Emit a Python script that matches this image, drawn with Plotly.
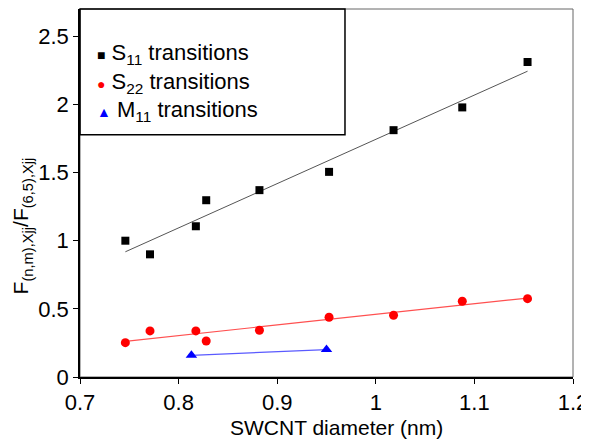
import numpy as np
import plotly.graph_objects as go

# Data
s11_x = [0.746, 0.771, 0.8175, 0.828, 0.882, 0.9526, 1.018, 1.0877, 1.1539]
s11_y = [1.00, 0.90, 1.106, 1.297, 1.371, 1.505, 1.811, 1.978, 2.311]
s22_x = [0.746, 0.771, 0.8175, 0.828, 0.882, 0.9526, 1.018, 1.0877, 1.1539]
s22_y = [0.252, 0.338, 0.338, 0.264, 0.343, 0.438, 0.453, 0.556, 0.575]
m11_x = [0.813, 0.950]
m11_y = [0.159, 0.201]

x_ticks = [0.7, 0.8, 0.9, 1.0, 1.1, 1.2]
x_tick_text = ["0.7", "0.8", "0.9", "1", "1.1", "1.2"]
y_ticks = [0, 0.5, 1.0, 1.5, 2.0, 2.5]
y_tick_text = ["0", "0.5", "1", "1.5", "2", "2.5"]

legend_names = ["S<sub>11</sub> transitions", "S<sub>22</sub> transitions", "M<sub>11</sub> transitions"]
legend_glyphs = ["■", "●", "▲"]
legend_colors = ["black", "#ff0000", "#0000ff"]

FONT = "Liberation Sans, Arial, sans-serif"

def fit_line(x, y):
    p = np.polyfit(x, y, 1)
    xs = np.array([min(x), max(x)])
    return xs, np.polyval(p, xs)

fig = go.Figure()

fx, fy = fit_line(s11_x, s11_y)
fig.add_trace(go.Scatter(x=fx, y=fy, mode="lines", line=dict(color="#555555", width=1), showlegend=False, hoverinfo="skip"))
fx, fy = fit_line(s22_x, s22_y)
fig.add_trace(go.Scatter(x=fx, y=fy, mode="lines", line=dict(color="#ff5050", width=1.2), showlegend=False, hoverinfo="skip"))
fig.add_trace(go.Scatter(x=m11_x, y=m11_y, mode="lines", line=dict(color="#5a5aff", width=1.2), showlegend=False, hoverinfo="skip"))

fig.add_trace(go.Scatter(x=s11_x, y=s11_y, mode="markers", name="S11", marker=dict(symbol="square", size=8, color="black"), showlegend=False))
fig.add_trace(go.Scatter(x=s22_x, y=s22_y, mode="markers", name="S22", marker=dict(symbol="circle", size=9, color="#ff0000"), showlegend=False))
fig.add_trace(go.Scatter(x=m11_x, y=m11_y, mode="markers", name="M11", marker=dict(symbol="triangle-up", size=10, color="#0000ff"), showlegend=False))

# plot frame (gray) and legend box
fig.add_shape(type="rect", xref="paper", yref="paper", x0=0, y0=0, x1=1, y1=1, line=dict(color="#666666", width=1), layer="below")
fig.add_shape(type="rect", xref="paper", yref="paper", x0=0, y0=0.658, x1=0.5375, y1=1, line=dict(color="black", width=1.5), layer="above")

axis_common = dict(
    showgrid=False, zeroline=False, showline=True, linecolor="black", linewidth=1.5,
    ticks="outside", ticklen=5, tickwidth=1.2, tickcolor="black", automargin=False,
    tickfont=dict(family=FONT, size=22, color="black"),
)

annotations = []
legend_y = [0.878, 0.7986, 0.722]
for name, glyph, col, ly in zip(legend_names, legend_glyphs, legend_colors, legend_y):
    annotations.append(dict(
        text=f"<span style='color:{col};font-size:14px'>{glyph}</span> {name}",
        xref="paper", yref="paper", x=0.03, y=ly, xanchor="left", yanchor="middle",
        showarrow=False, font=dict(family=FONT, size=22, color="black")))

annotations.append(dict(
    text="F<sub>(n,m),Xjj</sub>/F<sub>(6,5),Xjj</sub>", textangle=-90,
    xref="paper", yref="paper", x=-0.117, y=0.41, xanchor="center", yanchor="middle",
    showarrow=False, font=dict(family=FONT, size=21, color="black")))
annotations.append(dict(
    text="SWCNT diameter (nm)",
    xref="paper", yref="paper", x=0.52, y=-0.136, xanchor="center", yanchor="middle",
    showarrow=False, font=dict(family=FONT, size=21, color="black")))

# the page body adds an 8px offset; the figure is sized to fit the window
fig.update_layout(
    width=581, height=431,
    margin=dict(l=72, r=16, t=1, b=62),
    paper_bgcolor="white", plot_bgcolor="white",
    font=dict(family=FONT, size=22, color="black"),
    xaxis=dict(range=[0.7, 1.2], tickvals=x_ticks, ticktext=x_tick_text, **axis_common),
    yaxis=dict(range=[0, 2.7], tickvals=y_ticks, ticktext=y_tick_text, **axis_common),
    showlegend=False,
    annotations=annotations,
)

fig.write_html("out.html")
